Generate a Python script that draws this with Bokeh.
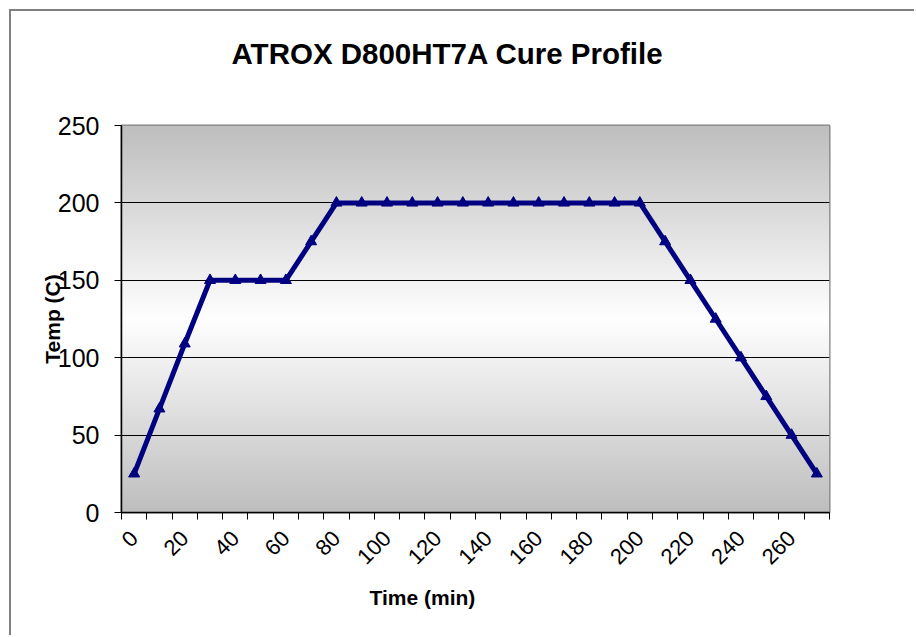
import math
import numpy as np
from bokeh.plotting import figure
from bokeh.models import Range1d, FixedTicker, Title
from bokeh.embed import file_html
from bokeh.resources import INLINE

# ---- data ----
time_min = [0, 10, 20, 30, 40, 50, 60, 70, 80, 90, 100, 110, 120, 130,
            140, 150, 160, 170, 180, 190, 200, 210, 220, 230, 240, 250, 260, 270]
temp_c = [25, 67, 109, 150, 150, 150, 150, 175, 200, 200, 200, 200, 200, 200,
          200, 200, 200, 200, 200, 200, 200, 175, 150, 125, 100, 75, 50, 25]
x_tick_values = [0, 20, 40, 60, 80, 100, 120, 140, 160, 180, 200, 220, 240, 260]
y_tick_values = [0, 50, 100, 150, 200, 250]
title_text = "ATROX D800HT7A Cure Profile"
x_label = "Time (min)"
y_label = "Temp (C)"

FONT = "Liberation Sans"

p = figure(width=905, height=626, output_backend="svg", toolbar_location=None,
           x_range=Range1d(-5, 275), y_range=Range1d(0, 250),
           min_border_left=110, min_border_right=87,
           min_border_top=113, min_border_bottom=125)
p.margin = (9, 0, 0, 9)
p.styles = {"border-left": "2px solid #808080", "border-top": "2px solid #808080"}

p.title.text = title_text
p.title.align = "left"
p.title.offset = 110
p.title.text_font = FONT
p.title.text_font_size = "29.5px"
p.title.text_font_style = "bold"
p.title.text_color = "black"
p.title.standoff = 47

# empty spacer between the frame and the title (pushes the title upward)
p.add_layout(Title(text=" ", text_font_size="1px", standoff=29), "above")

p.add_layout(Title(text=x_label, align="left", offset=248, text_font=FONT,
                   text_font_size="21px", text_font_style="bold",
                   text_color="black", standoff=18), "below")

# gradient background of the plot area (gray at top/bottom, white in the middle)
N = 388
rows = (np.arange(N) + 0.5) / N
t = np.abs(rows - 0.5) * 2
g = (255 - t * (255 - 190)).astype(np.uint8)
img = np.zeros((N, 1), dtype=np.uint32)
view = img.view(dtype=np.uint8).reshape((N, 1, 4))
view[:, 0, 0] = g
view[:, 0, 1] = g
view[:, 0, 2] = g
view[:, 0, 3] = 255
x0 = p.x_range.start
y0 = p.y_range.start
bg = p.image_rgba(image=[img], x=x0, y=y0, dw=p.x_range.end - x0, dh=p.y_range.end - y0)
bg.level = "image"

p.line(time_min, temp_c, line_color="#000080", line_width=5)
p.scatter(time_min, temp_c, marker="triangle", size=11,
          fill_color="#000080", line_color="#000080")

# x axis: ticks between categories, labels at category centres
half = 5
p.xaxis.ticker = FixedTicker(ticks=x_tick_values,
                             minor_ticks=[v - half for v in time_min] + [time_min[-1] + half])
p.xaxis.major_tick_out = 0
p.xaxis.major_tick_in = 0
p.xaxis.minor_tick_out = 7
p.xaxis.minor_tick_in = 0
p.xaxis.minor_tick_line_color = "black"
p.xaxis.minor_tick_line_width = 1
p.xaxis.major_label_orientation = math.pi / 4
p.xaxis.major_label_text_font = FONT
p.xaxis.major_label_text_font_size = "22px"
p.xaxis.major_label_text_color = "black"
p.xaxis.major_label_standoff = 15

p.yaxis.ticker = FixedTicker(ticks=y_tick_values)
p.yaxis.major_tick_out = 7
p.yaxis.major_tick_in = 0
p.yaxis.minor_tick_out = 0
p.yaxis.minor_tick_in = 0
p.yaxis.major_tick_line_color = "black"
p.yaxis.major_label_text_font = FONT
p.yaxis.major_label_text_font_size = "25px"
p.yaxis.major_label_text_color = "black"
p.yaxis.major_label_standoff = 15
p.yaxis.axis_label = y_label
p.yaxis.axis_label_text_font = FONT
p.yaxis.axis_label_text_font_size = "21px"
p.yaxis.axis_label_text_font_style = "bold"
p.yaxis.axis_label_text_color = "black"
p.yaxis.axis_label_standoff = -9

for ax in (p.xaxis, p.yaxis):
    ax.axis_line_color = "black"
    ax.axis_line_width = 1.5

p.xgrid.visible = False
p.ygrid.ticker = FixedTicker(ticks=y_tick_values)
p.ygrid.grid_line_color = "black"
p.ygrid.grid_line_width = 1

p.outline_line_color = "#808080"
p.outline_line_width = 2
p.background_fill_color = "white"
p.border_fill_color = "white"

open("out.html", "w").write(file_html(p, INLINE))
